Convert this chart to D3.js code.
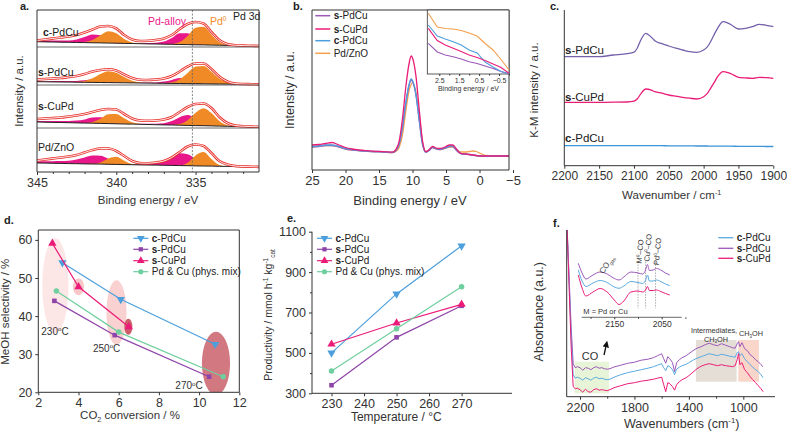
<!DOCTYPE html>
<meta charset="utf-8">
<title>PdCu catalysts</title>
<style>
body { margin: 0; background: #fff; }
svg { font-family: "Liberation Sans", Arial, sans-serif; }
</style>
<body>
<script src="https://cdn.jsdelivr.net/npm/d3@7"></script>
<script>

// ---------- a. Pd 3d XPS (stacked fits) ----------
var xpsE = [345,344.5,344,343.5,343,342.5,342,341.5,341,340.5,340,339.5,339,338.5,338,337.5,337,336.5,336,335.5,335,334.5,334,333.5,333,332.5,332,331.5,331];
var xpsNames = ["c-PdCu", "s-PdCu", "s-CuPd", "Pd/ZnO"];
var xpsBase = [
  [5.3,5.1,5.0,4.8,4.7,4.5,4.4,4.2,4.1,3.9,3.8,3.6,3.5,3.3,3.1,3.0,2.8,2.7,2.5,2.4,2.2,2.1,1.9,1.8,1.6,1.5,1.3,1.2,1.0],
  [3.3,3.2,3.1,3.0,2.9,2.8,2.7,2.6,2.5,2.4,2.3,2.2,2.1,2.0,1.9,1.8,1.7,1.6,1.5,1.4,1.3,1.2,1.1,1.0,0.9,0.8,0.7,0.6,0.5],
  [6,5.8,5.6,5.5,5.3,5.1,4.9,4.8,4.6,4.4,4.2,4,3.9,3.7,3.5,3.3,3.1,3,2.8,2.6,2.4,2.3,2.1,1.9,1.7,1.5,1.4,1.2,1],
  [9,8.9,8.7,8.6,8.4,8.3,8.1,8,7.9,7.7,7.6,7.4,7.3,7.1,7,6.9,6.7,6.6,6.4,6.3,6.1,6,5.9,5.7,5.6,5.4,5.3,5.1,5]
];
var xpsAlloy = [
  [1,1.2,1.4,1.6,1.8,3,5.6,8.4,7.6,3.8,1,0.1,0.3,0.5,0.8,1.2,2.6,6.4,11.3,11.4,6.3,2,0.3,0,0,0,0,0,0],
  [0.5,0.6,0.8,0.9,1.0,1.3,2.0,2.8,2.6,1.3,0.4,0.1,0.3,0.4,0.6,0.8,1.7,3.5,5.4,4.8,2.4,0.6,0.1,0,0,0,0,0,0],
  [1,1.2,1.4,1.6,1.8,2.3,3.7,5.8,6.2,3.9,1.3,0.2,0.3,0.5,0.8,1,1.7,3.9,8,10.3,7.2,2.9,0.6,0,0,0,0,0,0],
  [1.5,1.8,2.1,2.4,2.9,4.3,6.4,8.4,8.4,5.6,2.4,0.7,0.4,0.6,1,2.2,4.8,8.9,12.3,11.4,7.1,2.9,0.8,0.1,0,0,0,0,0]
];
var xpsPd0 = [
  [0,0,0,0,0,0,0.5,2.7,7.7,11.9,9.9,4.4,1.1,0.1,0,0,0,0.3,2.4,8.6,17,18.1,10.4,3.2,0.5,0,0,0,0],
  [0,0,0,0,0,0.3,1.3,4.1,8.5,11.4,10.0,5.8,2.2,0.5,0.1,0,0.2,1.1,4.3,10.7,17.1,17.9,12.2,5.4,1.6,0.3,0,0,0],
  [0,0,0,0,0,0,0.2,1.3,4.7,9.3,9.9,5.7,1.8,0.3,0,0,0,0.1,1.1,5.1,12.8,17.4,12.8,5.1,1.1,0.1,0,0,0],
  [0,0,0,0,0,0,0,0.2,1.6,5.7,7.6,3.9,0.7,0.1,0,0,0,0,0.3,3,10.5,14,7.2,1.4,0.1,0,0,0,0]
];
var xpsEnv = [
  [6.5,7.5,8.5,9.5,10.5,12,14.5,17.5,20.5,21,18.5,12,7.5,6,6.2,7,8.5,12,18,23,25,23.5,15,7,3,1.8,1.4,1.2,1],
  [5.5,6,6.5,7,8,9,11,13.5,15,15.7,14.5,10.5,7,5.2,5,5.5,6.5,9,13.5,18.5,21.5,21.5,16,8.5,3.5,1.5,1,0.8,0.6],
  [9,9.5,10,10.5,11.5,12.5,14,16,18,19,18.5,14,9.5,7.5,7.2,7.5,8.5,11,16,21,24,24.5,20,11,5,2.5,1.8,1.4,1.2],
  [11.5,12.5,13.5,14.5,15.5,17,19.5,22,23.5,23.5,21,16,11,9,8.8,9.5,11,14.5,20,25.5,27.5,26,19,11,7.5,6,5.5,5.3,5.1]
];

// ---------- b. valence band ----------
var vbE = [25,24,23,22,21,20,19,18,17,16,15,14,13,12.5,12,11.5,11,10.5,10.2,10,9.5,9,8.5,8,7.5,7,6.5,6,5.5,5,4.5,4,3.5,3,2.5,2,1.5,1,0.5,0,-0.5,-1,-2,-3,-4.4];
var vbSPdCu = [23,23.5,24.5,24.5,23,21,20,19.3,18.8,18.3,18.2,17.8,17.5,19.5,25.5,42,66.5,85,90,88.5,75.5,49.5,25.5,17.8,19.5,22.5,21,20.5,21,22,23.5,23.5,20,17,15.8,15.8,15.3,14.8,14.3,14,14,14,14,14,14];
var vbSCuPd = [25,25.5,26.5,27.5,25,22.5,21,20,19.3,18.8,18.6,18.2,17.8,20.4,28.6,51,83,107,114,112,94.6,60.7,28.6,18.3,20.5,23.5,22,21.5,22,23.5,25,25,21.5,17.5,16.2,16,15.5,15,14.5,14,14,14,14,14,14];
var vbCPdCu = [23.5,24,25,25,23.5,21.5,20.5,19.5,19,18.5,18.5,18,17.6,19.7,25.9,42.9,67.3,85.8,91,89.5,76.2,50.3,25.9,18,20,23,21.5,21,21.5,22.5,24,24,21,17.5,16,16,15.5,15,14.5,14,14,14,14,14,14];
var vbPdZnO = [23.5,24,24.5,24.5,23,21,20,19.3,18.8,18.5,18.3,17.8,17.4,18.5,22.5,35,59,80,85.5,87.3,78,55,28,18.5,20,22.5,21,20.5,21,22,23,23,21,18.5,18,18,18.5,19,18.5,17,15.5,14.5,14,14,14];
// inset, near Fermi edge
var vbInE = [3.05,2.6,2.2,1.8,1.4,1.0,0.6,0.2,-0.2,-0.6,-1.0];
var vbInSPdCu = [30.7,22,19,17.3,15,12.3,10.5,8,5.5,2.5,0];
var vbInSCuPd = [45.7,33.5,29,25.7,22.5,19,16.5,13.5,10,6.5,0.7];
var vbInCPdCu = [49,38,35,32.3,29,24,21,12,7,2.5,0.5];
var vbInPdZnO = [60.7,47,45.5,45,43.5,41,38,30.5,24,14.5,4];
var vbNames = ["s-PdCu", "s-CuPd", "c-PdCu", "Pd/ZnO"];

// ---------- c. DRIFTS K-M ----------
var irW = [2200,2150,2130,2110,2100,2095,2090,2083,2075,2070,2060,2050,2040,2030,2020,2010,2000,1995,1990,1985,1980,1972,1965,1960,1950,1940,1930,1920,1910,1900];
var irSPdCu = [109,109,110.7,112,113.5,118,126,132.4,128.5,125,122,119.7,117.5,115.7,114,113.4,115.7,118.5,124,131,137.4,144,142.5,140.7,136.7,137.4,139,141.4,140.4,139];
var irSCuPd = [63.4,63.4,63.5,63.7,64.5,67,72,76.7,75.5,74,72.5,70.7,69.5,68.4,67.5,66.7,69,72,77.4,83,89,94,93,91.7,88.4,87.8,87.4,88.4,88,87.4];
var irCPdCu = [20,20,20,20,20,20,20,20,20,20,20,19.9,19.9,19.8,19.8,19.7,19.7,19.7,19.6,19.6,19.6,19.5,19.5,19.5,19.4,19.4,19.3,19.3,19.2,19.2];

// ---------- d. selectivity vs conversion ----------
var dNames = ["c-PdCu", "s-PdCu", "s-CuPd", "Pd & Cu (phys. mix)"];
var dConv = [[3.2,6.1,10.8],[2.8,5.8,10.5],[2.7,4.0,6.5],[2.9,6.0,11.2]];
var dSel = [[54,44.4,32.6],[44,35,24.1],[59.1,47.7,37.2],[46.6,35.8,24.1]];
var ellCx = [2.85, 4.0, 5.89, 6.48, 10.84];
var ellCy = [48, 47.7, 40.9, 37.2, 27.6];
var ellRx = [0.65, 0.28, 0.5, 0.2, 0.7];
var ellRy = [12.5, 2.2, 8.5, 2.1, 8.3];
var tempLabels = ["230", "250", "270"];
var tempLabX = [2.83, 5.4, 9.5];
var tempLabY = [36, 31.5, 21.7];

// ---------- e. productivity ----------
var temps = [230, 250, 270];
var prod = [[500,792,1030],[340,577,733],[543,648,740],[410,619,827]];

// ---------- f. in situ DRIFTS ----------
var fW = [2295,2280,2265,2250,2235,2220,2200,2180,2160,2140,2120,2100,2080,2060,2040,2020,2000,1980,1950,1900,1850,1800,1750,1700,1660,1630,1600,1585,1570,1555,1540,1520,1505,1490,1470,1450,1420,1400,1370,1340,1310,1280,1250,1220,1190,1160,1130,1100,1080,1060,1045,1035,1025,1010,990,970,950,930,910,890,870,855];
var fCPdCu = [170,115,60,22,18.5,19.5,18.5,16.5,19,18,16.5,18.5,19.5,18,18.5,17.5,17,17.5,19.5,22,24,25.5,27,28.5,30,31.5,33,29,26,31,30,27,22,27.5,29.5,31,32.5,34,36.5,38.5,40,41.5,43,42,41,42.5,41.5,40.5,40,39.5,44,45,41,43,38,35,32,29.5,27,25,22,19];
var fSPdCu = [170,120,70,33,29,30,29,26.5,29,28.5,27,29,30,28.5,29,28,27.5,28,29.7,31.5,33.4,34.5,36.5,37.5,39,41,43,38,33.5,40,38,34,25,34,37,39,41,43,46,48.5,50,52,53.5,52,51,53,51.5,50,49,48.5,53,55,50,54,48,46,42,40,37,35,32,30];
var fSCuPd = [170,110,50,10,8,8.5,7,4.5,7.5,5,4.5,7,8,6.5,7,6.5,6,7,9,11,13,14,15.5,16.5,17.5,18.5,19.5,12,5,14,13,10,6.5,12,15,17,19,21,24.5,28,30.5,32,33,32,31,32,31,30.5,30,31,37,43,32,34,27,24,20,17,14,11,8,5];
var fInW = [2226,2218,2210,2195,2180,2165,2150,2140,2130,2115,2100,2090,2084,2080,2076,2068,2061,2052,2042,2033];
var fInSPdCu = [56.7,47,41,45,48,46,41.5,40,43,48,47,46,50,55.5,49.5,50,51.5,50,47,45];
var fInCPdCu = [50,39,33.5,37,39.5,37.5,33,31.7,34,38.5,37.5,36.5,40,45,39,39,40,38.5,36,34.3];
var fInSCuPd = [45,32,24,28,31.5,28,20,15.5,19,28,29,28,30,33.5,29.5,29.5,30,28.5,26.5,25];
var fInLines = [2100, 2084, 2063];
var fNames = ["c-PdCu", "s-PdCu", "s-CuPd"];

// ---------- colours ----------
var cBlue = "#4c9fdc", cPurple = "#9c58b8", cPink = "#ea1c78", cOrange = "#f5a04c", cGreen = "#6fcf9f";
var cAlloy = "#e8178a", cPd0 = "#f08a26", cEnv = "#e8302a";

var svg = d3.select("body").append("svg").attr("width", 787).attr("height", 435);
var TICK = 12, TITLE = 11.5;
var intFmt = d3.format("d");

function addAxis(axis, x, y, size) {
  var g = svg.append("g").attr("transform", "translate(" + x + "," + y + ")").call(axis);
  g.attr("font-family", null).attr("font-size", size || TICK);
  g.select(".domain").remove();
  g.selectAll(".tick line").attr("stroke", "#333");
  g.selectAll(".tick text").attr("fill", "#333");
  return g;
}
function spines(x0, y0, x1, y1, sides) {
  var s = {l:[x0,y0,x0,y1], r:[x1,y0,x1,y1], t:[x0,y0,x1,y0], b:[x0,y1,x1,y1]};
  sides.split("").forEach(function(k) {
    svg.append("line").attr("x1", s[k][0]).attr("y1", s[k][1]).attr("x2", s[k][2]).attr("y2", s[k][3])
      .attr("stroke", "#333").attr("stroke-width", 1);
  });
}
// text with sub/superscripts and bold parts
function rich(t, segs, size) {
  var shift = 0;
  segs.forEach(function(seg) {
    var target = seg.s === "sup" ? -0.38 * size : seg.s === "sub" ? 0.25 * size : 0;
    var ts = t.append("tspan").attr("dy", target - shift).text(seg.t);
    if (seg.s) ts.attr("font-size", size * 0.62);
    if (seg.b) ts.attr("font-weight", "bold");
    shift = target;
  });
  return t;
}
function label(x, y, size, segs, opts) {
  opts = opts || {};
  var t = svg.append("text").attr("x", x).attr("y", y).attr("font-size", size)
    .attr("fill", opts.color || "#333").attr("text-anchor", opts.anchor || "start");
  if (opts.rotate !== undefined) t.attr("transform", "rotate(" + opts.rotate + "," + x + "," + y + ")");
  if (opts.dy) t.attr("dy", opts.dy);
  return rich(t, typeof segs === "string" ? [{t: segs}] : segs, size);
}
function sampleSegs(name) {
  if (name[1] === "-") return [{t: name[0], b: true}, {t: name.slice(1)}];
  return [{t: name}];
}
function yTitle(x, y, segs, size) { return label(x, y, size || TITLE, segs, {anchor: "middle", rotate: -90, dy: "0.35em"}); }
function panelTag(x, y, s) { svg.append("text").attr("x", x).attr("y", y).attr("font-size", 11).attr("font-weight", "bold").attr("fill", "#222").text(s); }
function symbol(kind, size) {
  if (kind === "down" || kind === "up") return d3.symbol(d3.symbolTriangle, size)();
  if (kind === "square") return d3.symbol(d3.symbolSquare, size * 0.7)();
  return d3.symbol(d3.symbolCircle, size * 0.8)();
}

// ================= a =================
var xa = d3.scaleLinear().domain([345, 331]).range([37, 259]);
var aRows = [[10, 47], [47, 85], [85, 128], [128, 172]];
svg.append("clipPath").attr("id", "clipA").append("rect").attr("x", 37).attr("y", 10).attr("width", 222).attr("height", 162);
xpsNames.forEach(function(name, i) {
  var bottom = aRows[i][1];
  var ya = d3.scaleLinear().domain([0, 40]).range([bottom, bottom - 40]);
  var pts = xpsE.map(function(e, j) {
    return {e: e, b: xpsBase[i][j], al: xpsBase[i][j] + xpsAlloy[i][j], p0: xpsBase[i][j] + xpsPd0[i][j], env: xpsEnv[i][j]};
  });
  var g = svg.append("g").attr("clip-path", "url(#clipA)");
  var area = function(key) {
    return d3.area().x(function(d) { return xa(d.e); }).y0(function(d) { return ya(d.b); })
      .y1(function(d) { return ya(d[key]); }).curve(d3.curveMonotoneX);
  };
  var line = function(key) {
    return d3.line().x(function(d) { return xa(d.e); }).y(function(d) { return ya(d[key]); }).curve(d3.curveMonotoneX);
  };
  g.append("path").datum(pts).attr("fill", cAlloy).attr("d", area("al"));
  g.append("path").datum(pts).attr("fill", cPd0).attr("d", area("p0"));
  g.append("path").datum(pts).attr("fill", "none").attr("stroke", "#222").attr("stroke-width", 1).attr("d", line("b"));
  g.append("path").datum(pts).attr("fill", "none").attr("stroke", cEnv).attr("stroke-width", 2.6).attr("d", line("env"));
  g.append("path").datum(pts).attr("fill", "none").attr("stroke", "#fff").attr("stroke-width", 0.9).attr("d", line("env"));
  if (i > 0) svg.append("line").attr("x1", 37).attr("x2", 259).attr("y1", aRows[i][0]).attr("y2", aRows[i][0]).attr("stroke", "#444").attr("stroke-width", 0.8);
});
var aLabY = [36, 76, 109.5, 150.5];
xpsNames.forEach(function(name, i) { label(i === 0 ? 43 : 38, aLabY[i], 10.5, sampleSegs(name), {color: "#222"}); });
svg.append("line").attr("x1", xa(335.2)).attr("x2", xa(335.2)).attr("y1", 10).attr("y2", 172)
  .attr("stroke", "#666").attr("stroke-width", 0.8).attr("stroke-dasharray", "2,1.5");
label(167, 25, 10.5, "Pd-alloy", {color: cAlloy, anchor: "middle"});
label(210, 25, 10.5, [{t: "Pd"}, {t: "0", s: "sup"}], {color: cPd0});
label(233, 19.5, 10.5, "Pd 3d", {color: "#222"});
spines(37, 10, 259, 172, "lrtb");
addAxis(d3.axisBottom(xa).tickValues([345, 340, 335]).tickSize(3).tickFormat(intFmt), 0, 172, 12.5);
addAxis(d3.axisBottom(xa).tickValues([344,343,342,341,339,338,337,336,334,333,332]).tickSize(2).tickFormat(""), 0, 172);
label(148, 204, TITLE, "Binding energy / eV", {anchor: "middle"});
yTitle(23, 91, "Intensity / a.u.");
panelTag(20, 10, "a.");

// ================= b =================
var xb = d3.scaleLinear().domain([25, -4.4]).range([312, 509]);
var yb = d3.scaleLinear().domain([0, 160]).range([170, 10]);
var vbSeries = [vbSPdCu, vbSCuPd, vbCPdCu, vbPdZnO];
var vbIn = [vbInSPdCu, vbInSCuPd, vbInCPdCu, vbInPdZnO];
var vbColors = [cPurple, cPink, cBlue, cOrange];
var drawOrder = [3, 0, 2, 1];
drawOrder.forEach(function(k) {
  svg.append("path").datum(vbSeries[k]).attr("fill", "none").attr("stroke", vbColors[k]).attr("stroke-width", 1.3)
    .attr("d", d3.line().x(function(d, j) { return xb(vbE[j]); }).y(function(d) { return yb(d); }).curve(d3.curveMonotoneX));
});
spines(312, 10, 509, 170, "lrtb");
addAxis(d3.axisBottom(xb).tickValues([25, 20, 15, 10, 5, 0, -5]).tickSize(3).tickFormat(intFmt), 0, 170, 13);
label(410, 205, 13, "Binding energy / eV", {anchor: "middle"});
yTitle(293.7, 90, "Intensity / a.u.", 12.5);
panelTag(293, 10, "b.");
vbNames.forEach(function(name, i) {
  var y = [15.7, 29, 40.7, 53.3][i];
  svg.append("line").attr("x1", 315.3).attr("x2", 330.3).attr("y1", y).attr("y2", y).attr("stroke", vbColors[i]).attr("stroke-width", 1.5);
  label(333.7, y + 3.5, 10, sampleSegs(name), {color: "#222"});
});
// inset
var xbi = d3.scaleLinear().domain([3.1, -1.0]).range([427.3, 509]);
var ybi = d3.scaleLinear().domain([0, 64]).range([74, 10]);
svg.append("rect").attr("x", 427.3).attr("y", 10).attr("width", 81.7).attr("height", 64).attr("fill", "#fff").attr("stroke", "#333").attr("stroke-width", 0.8);
[3, 0, 2, 1].forEach(function(k) {
  svg.append("path").datum(vbIn[k]).attr("fill", "none").attr("stroke", vbColors[k]).attr("stroke-width", 1.1)
    .attr("d", d3.line().x(function(d, j) { return xbi(vbInE[j]); }).y(function(d) { return ybi(d); }));
});
addAxis(d3.axisBottom(xbi).tickValues([2.5, 1.5, 0.5, -0.5]).tickSize(2).tickPadding(2).tickFormat(d3.format(".1f")), 0, 74, 7);
addAxis(d3.axisBottom(xbi).tickValues([2, 1, 0, -1]).tickSize(1.5).tickFormat(""), 0, 74, 7);
label(468.5, 91, 7, "Binding energy / eV", {anchor: "middle"});

// ================= c =================
var xc = d3.scaleLinear().domain([2200, 1900]).range([564.3, 773.3]);
var yc = d3.scaleLinear().domain([0, 155.7]).range([165.7, 10]);
[[irSPdCu, "#7460ab"], [irSCuPd, cPink], [irCPdCu, "#3d94d6"]].forEach(function(s) {
  svg.append("path").datum(s[0]).attr("fill", "none").attr("stroke", s[1]).attr("stroke-width", 1.3)
    .attr("d", d3.line().x(function(d, j) { return xc(irW[j]); }).y(function(d) { return yc(d); }).curve(d3.curveMonotoneX));
});
spines(564.3, 10, 773.3, 165.7, "lb");
addAxis(d3.axisBottom(xc).tickValues([2200, 2150, 2100, 2050, 2000, 1950, 1900]).tickSize(3).tickFormat(intFmt), 0, 165.7);
label(671.7, 199, TITLE, [{t: "Wavenumber / cm"}, {t: "-1", s: "sup"}], {anchor: "middle"});
yTitle(538.3, 90, "K-M intensity / a.u.");
label(565, 54, 11.5, sampleSegs("s-PdCu"), {color: "#222"});
label(565, 100.5, 11.5, sampleSegs("s-CuPd"), {color: "#222"});
label(565, 142, 11.5, sampleSegs("c-PdCu"), {color: "#222"});
panelTag(550, 10, "c.");

// ================= d =================
var xd = d3.scaleLinear().domain([2, 12]).range([38.3, 239.3]);
var yd = d3.scaleLinear().domain([20, 62.6]).range([392.3, 230]);
svg.append("clipPath").attr("id", "clipD").append("rect").attr("x", 38.3).attr("y", 230).attr("width", 201).attr("height", 162.3);
var ellFill = ["#fde3e3", "#f5c0c2", "#f9cccc", "#c64a5a", "#c9606b"];
var gE = svg.append("g").attr("clip-path", "url(#clipD)");
ellCx.forEach(function(cx, i) {
  gE.append("ellipse").attr("cx", xd(cx)).attr("cy", yd(ellCy[i]))
    .attr("rx", xd(cx + ellRx[i]) - xd(cx)).attr("ry", yd(ellCy[i]) - yd(ellCy[i] + ellRy[i]))
    .attr("fill", ellFill[i]).attr("opacity", i === 4 ? 0.85 : 0.9);
});
var dColors = [cBlue, "#8e44a8", cPink, cGreen];
var dSyms = ["down", "square", "up", "circle"];
dNames.forEach(function(name, i) {
  var pts = dConv[i].map(function(x, j) { return [x, dSel[i][j]]; });
  svg.append("path").datum(pts).attr("fill", "none").attr("stroke", dColors[i]).attr("stroke-width", 1.2)
    .attr("d", d3.line().x(function(d) { return xd(d[0]); }).y(function(d) { return yd(d[1]); }));
  svg.selectAll(null).data(pts).enter().append("path").attr("d", symbol(dSyms[i], 30)).attr("fill", dColors[i])
    .attr("transform", function(d) { return "translate(" + xd(d[0]) + "," + yd(d[1]) + ")" + (dSyms[i] === "down" ? " rotate(180)" : ""); });
});
tempLabels.forEach(function(t, i) {
  label(xd(tempLabX[i]), yd(tempLabY[i]) + 3.5, 10, [{t: t}, {t: "o", s: "sup"}, {t: "C"}], {anchor: "middle"});
});
spines(38.3, 230, 239.3, 392.3, "lrtb");
addAxis(d3.axisBottom(xd).tickValues([2, 4, 6, 8, 10, 12]).tickSize(3).tickFormat(intFmt), 0, 392.3, 12.5);
addAxis(d3.axisLeft(yd).tickValues([20, 30, 40, 50, 60]).tickSize(3).tickFormat(intFmt), 38.3, 0, 12.5);
label(130, 419, TITLE, [{t: "CO"}, {t: "2", s: "sub"}, {t: " conversion / %"}], {anchor: "middle"});
yTitle(9.3, 311.7, "MeOH selectivity / %");
panelTag(4, 224, "d.");

function legend(x0, ys, names, colors, syms) {
  names.forEach(function(name, i) {
    svg.append("line").attr("x1", x0).attr("x2", x0 + 15).attr("y1", ys[i]).attr("y2", ys[i]).attr("stroke", colors[i]).attr("stroke-width", 1.2);
    svg.append("path").attr("d", symbol(syms[i], 26)).attr("fill", colors[i])
      .attr("transform", "translate(" + (x0 + 7.5) + "," + ys[i] + ")" + (syms[i] === "down" ? " rotate(180)" : ""));
    label(x0 + 18.5, ys[i] + 3.5, 10, sampleSegs(name), {color: "#222"});
  });
}
legend(133.3, [238.3, 249.3, 260.7, 271.7], dNames, dColors, dSyms);

// ================= e =================
var xe = d3.scaleLinear().domain([224, 285.5]).range([312, 512]);
var ye = d3.scaleLinear().domain([300, 1100]).range([393.3, 231.7]);
dNames.forEach(function(name, i) {
  var pts = temps.map(function(t, j) { return [t, prod[i][j]]; });
  svg.append("path").datum(pts).attr("fill", "none").attr("stroke", dColors[i]).attr("stroke-width", 1.2)
    .attr("d", d3.line().x(function(d) { return xe(d[0]); }).y(function(d) { return ye(d[1]); }));
  svg.selectAll(null).data(pts).enter().append("path").attr("d", symbol(dSyms[i], 30)).attr("fill", dColors[i])
    .attr("transform", function(d) { return "translate(" + xe(d[0]) + "," + ye(d[1]) + ")" + (dSyms[i] === "down" ? " rotate(180)" : ""); });
});
spines(312, 231.7, 512, 393.3, "lb");
addAxis(d3.axisBottom(xe).tickValues([230, 240, 250, 260, 270]).tickSize(3).tickFormat(intFmt), 0, 393.3, 12.5);
addAxis(d3.axisLeft(ye).tickValues([300, 500, 700, 900, 1100]).tickSize(3).tickFormat(intFmt), 312, 0, 12.5);
addAxis(d3.axisLeft(ye).tickValues([400, 600, 800, 1000]).tickSize(2).tickFormat(""), 312, 0);
label(396.3, 421, 12, "Temperature / \u00b0C", {anchor: "middle"});
yTitle(272, 315, [{t: "Productivity / mmol h"}, {t: "-1", s: "sup"}, {t: " kg"}, {t: "-1", s: "sup"}, {t: "cat", s: "sub"}], 10.5);
legend(317, [238.3, 249.3, 260.7, 271.7], dNames, dColors, dSyms);
panelTag(287, 222, "e.");

// ================= f =================
var xf = d3.scaleLinear().domain([2200, 1000]).range([580, 743.3]);
var yf = d3.scaleLinear().domain([0, 166.7]).range([396.7, 230]);
svg.append("clipPath").attr("id", "clipF").append("rect").attr("x", 566.7).attr("y", 230).attr("width", 210).attr("height", 166.7);
var gF = svg.append("g").attr("clip-path", "url(#clipF)");
var fBoxes = [[2239, 1987, 3.4, 35, "#e6f3d3"], [1348, 1049, 15, 56.7, "#e2dad3"], [1037, 885, 15, 56.7, "#f9d0c4"]];
fBoxes.forEach(function(b) {
  gF.append("rect").attr("x", xf(b[0])).attr("width", xf(b[1]) - xf(b[0])).attr("y", yf(b[3])).attr("height", yf(b[2]) - yf(b[3]))
    .attr("fill", b[4]).attr("opacity", 0.9);
});
var fSeries = [fCPdCu, fSPdCu, fSCuPd];
var fColors = ["#5aaae0", cPurple, cPink];
[1, 0, 2].forEach(function(k) {
  gF.append("path").datum(fSeries[k]).attr("fill", "none").attr("stroke", fColors[k]).attr("stroke-width", 1)
    .attr("d", d3.line().x(function(d, j) { return xf(fW[j]); }).y(function(d) { return yf(d); }));
});
spines(566.7, 230, 775, 396.7, "lb");
addAxis(d3.axisBottom(xf).tickValues([2200, 1800, 1400, 1000]).tickSize(3).tickFormat(intFmt), 0, 396.7, 12.5);
addAxis(d3.axisBottom(xf).tickValues([2000, 1600, 1200]).tickSize(2).tickFormat(""), 0, 396.7);
label(681.7, 428, 12.5, [{t: "Wavenumbers (cm"}, {t: "-1", s: "sup"}, {t: ")"}], {anchor: "middle"});
yTitle(543.3, 311.7, "Absorbance (a.u.)", 12.5);
panelTag(553, 227, "f.");
fNames.forEach(function(name, i) {
  var y = [237.7, 248.3, 258.3][i];
  svg.append("line").attr("x1", 718.3).attr("x2", 733.3).attr("y1", y).attr("y2", y).attr("stroke", fColors[i]).attr("stroke-width", 1.3);
  label(736.7, y + 3.5, 10, sampleSegs(name), {color: "#222"});
});
label(590, 360, 11, "CO", {anchor: "middle"});
label(714, 333, 7.3, "Intermediates,", {anchor: "middle"});
label(716, 341.5, 7.3, [{t: "CH"}, {t: "3", s: "sub"}, {t: "OH"}], {anchor: "middle"});
label(751, 336, 7.3, [{t: "CH"}, {t: "3", s: "sub"}, {t: "OH"}], {anchor: "middle"});
svg.append("defs").append("marker").attr("id", "arr").attr("viewBox", "0 0 10 10").attr("refX", 5).attr("refY", 5)
  .attr("markerWidth", 5).attr("markerHeight", 5).attr("orient", "auto")
  .append("path").attr("d", "M0,0L10,5L0,10z").attr("fill", "#111");
svg.append("line").attr("x1", 604).attr("y1", 355).attr("x2", 606.5).attr("y2", 344).attr("stroke", "#111").attr("stroke-width", 1.3).attr("marker-end", "url(#arr)");
// f inset
var xfi = d3.scaleLinear().domain([2150, 2050]).range([614.3, 661.7]);
var yfi = d3.scaleLinear().domain([0, 70]).range([320, 250]);
fInLines.forEach(function(w) {
  svg.append("line").attr("x1", xfi(w)).attr("x2", xfi(w)).attr("y1", 261.7).attr("y2", 308.3)
    .attr("stroke", "#999").attr("stroke-width", 0.8).attr("stroke-dasharray", "1.5,1.2");
});
[[fInSPdCu, cPurple], [fInCPdCu, "#5aaae0"], [fInSCuPd, cPink]].forEach(function(s) {
  svg.append("path").datum(s[0]).attr("fill", "none").attr("stroke", s[1]).attr("stroke-width", 1)
    .attr("d", d3.line().x(function(d, j) { return xfi(fInW[j]); }).y(function(d) { return yfi(d); }).curve(d3.curveMonotoneX));
});
svg.append("line").attr("x1", 581.7).attr("x2", 681.7).attr("y1", 317.3).attr("y2", 317.3).attr("stroke", "#444").attr("stroke-width", 0.8);
addAxis(d3.axisBottom(xfi).tickValues([2150, 2050]).tickSize(2).tickPadding(1.5).tickFormat(intFmt), 0, 317.3, 8.5);
addAxis(d3.axisBottom(xfi).tickValues([2200, 2100, 2000]).tickSize(1.5).tickFormat(""), 0, 317.3, 8);
label(583.3, 314, 7.5, "M = Pd or Cu");
label(609, 266, 8, [{t: "CO"}, {t: "gas", s: "sub"}], {anchor: "middle", rotate: -55});
label(642.5, 251.7, 7.5, [{t: "M"}, {t: "0", s: "sup"}, {t: "\u2013CO"}], {anchor: "middle", rotate: -85});
label(650.5, 248, 7.5, [{t: "Cu"}, {t: "0", s: "sup"}, {t: "\u2013CO"}], {anchor: "middle", rotate: -85});
label(660, 251.7, 7.5, [{t: "Pd"}, {t: "0", s: "sup"}, {t: "\u2013CO"}], {anchor: "middle", rotate: -85});

</script>
